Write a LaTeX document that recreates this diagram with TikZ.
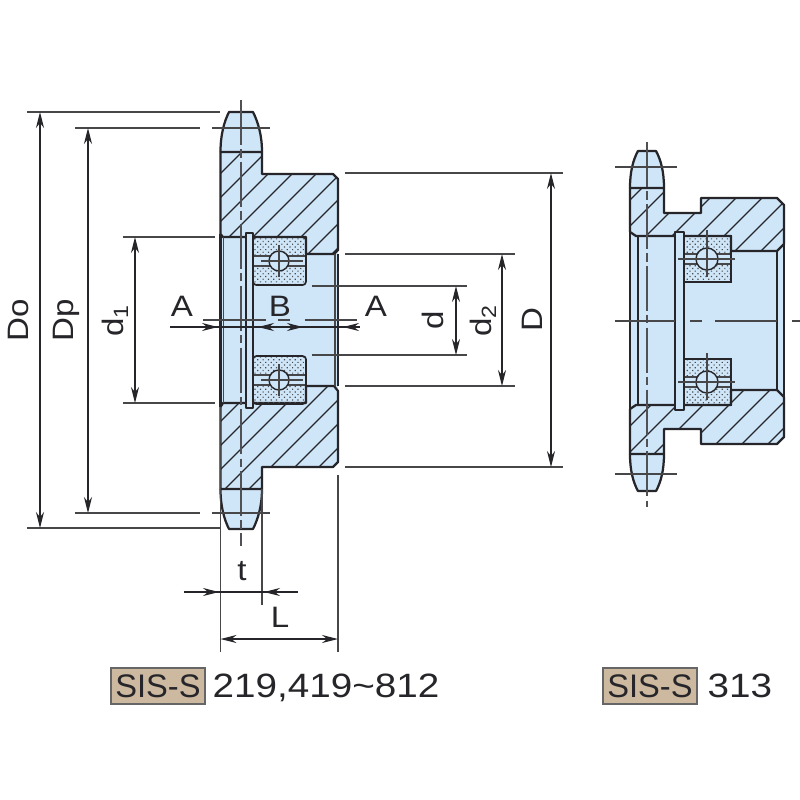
\documentclass[tikz,border=0pt]{standalone}
\usepackage{fontspec}
\setmainfont{Liberation Sans}
\usetikzlibrary{arrows.meta, patterns.meta}
\definecolor{bodyblue}{HTML}{CFE6F8}
\definecolor{tagtan}{HTML}{CDB9A0}
\definecolor{inkline}{HTML}{26262A}
\tikzset{
  outline/.style={draw=inkline, line width=0.8pt, line join=round},
  thinline/.style={draw=inkline!85, line width=0.4pt},
  hatchline/.style={draw=inkline, line width=0.4pt},
  centerline/.style={draw=inkline!80, line width=0.4pt, dash pattern=on 16pt off 1.5pt on 3pt off 1.5pt},
  dimline/.style={draw=inkline, line width=0.4pt, >={Stealth[length=2mm,width=1mm]}},
  dimlabel/.style={font=\fontsize{10.5}{12}\selectfont, text=inkline, inner sep=0pt, xscale=1.12},
  sidelabel/.style={font=\fontsize{10.5}{12}\selectfont, text=inkline, inner sep=0pt, rotate=90, xscale=1.12},
  tagbox/.style={draw=black!60, fill=tagtan, line width=0.4pt, minimum width=94*0.0125cm, minimum height=36*0.0125cm, inner sep=0pt, font=\fontsize{11.6}{13}\selectfont, text=inkline},
  tagtext/.style={font=\fontsize{12}{14}\selectfont, text=inkline, inner sep=0pt, anchor=base west, xscale=1.145},
  race/.style={draw=inkline, line width=0.6pt, rounded corners=1.2pt, pattern={Dots[distance=1.35pt, radius=0.3pt, angle=45]}, pattern color=black!70},
}
\begin{document}
\begin{tikzpicture}[x=0.0125cm, y=-0.0125cm]
\useasboundingbox (0,0) rectangle (800,800);
\fill[white] (0,0) rectangle (800,800);

% Left sprocket: outer shape
\fill[bodyblue] (220.5,152) .. controls (220.5,135) and (224,122) .. (229,112) -- (253,112) .. controls (258,122) and (262,135) .. (262,152) -- (262,174) -- (333,174) -- (338,179) -- (338,462) -- (333,467) -- (262,467) -- (262,489) .. controls (262,506) and (258,519) .. (253,529) -- (229,529) .. controls (224,519) and (220.5,506) .. (220.5,489) -- cycle;
% Left sprocket: hatching
\begin{scope}
\clip (220.5,152) -- (262,152) -- (262,174) -- (333,174) -- (338,179) -- (338,250) -- (334,254) -- (306,254) -- (306,237) -- (223,237) -- (220.5,234) -- cycle;
\foreach \c in {394,418,...,610} \draw[hatchline] (\c-100,100) -- (\c-300,300);
\end{scope}
\begin{scope}
\clip (220.5,489) -- (262,489) -- (262,467) -- (333,467) -- (338,462) -- (338,391) -- (334,386) -- (306,386) -- (306,403) -- (223,403) -- (220.5,407) -- cycle;
\foreach \c in {642,666,...,830} \draw[hatchline] (\c-340,340) -- (\c-540,540);
\end{scope}
% Left sprocket: section edges
\draw[outline] (220.5,152) -- (262,152) -- (262,174) -- (333,174) -- (338,179) -- (338,250) -- (334,254) -- (306,254) -- (306,237) -- (223,237) -- (220.5,234) -- cycle;
\draw[outline] (220.5,489) -- (262,489) -- (262,467) -- (333,467) -- (338,462) -- (338,391) -- (334,386) -- (306,386) -- (306,403) -- (223,403) -- (220.5,407) -- cycle;
\draw[outline] (220.5,152) .. controls (220.5,135) and (224,122) .. (229,112) -- (253,112) .. controls (258,122) and (262,135) .. (262,152);
\draw[outline] (220.5,489) .. controls (220.5,506) and (224,519) .. (229,529) -- (253,529) .. controls (258,519) and (262,506) .. (262,489);
% Left sprocket: bore
\draw[outline] (220.5,234) -- (220.5,407);
\draw[outline] (338,254) -- (338,386);
\draw[thinline] (223.5,237) -- (223.5,403);
\draw[thinline] (335,254) -- (335,386);
% Left sprocket: snap ring
\draw[outline, fill=bodyblue] (246,233) -- (253,233) -- (253,408) -- (246,408) -- cycle;
% Left sprocket: bearings
\foreach \ballY in {261,380} {
  \draw[race] (253,\ballY-24) rectangle (306,\ballY+24);
  \fill[bodyblue] (254,\ballY-5) rectangle (305,\ballY+5);
  \draw[thinline] (254,\ballY-5) -- (305,\ballY-5);
  \draw[thinline] (254,\ballY+5) -- (305,\ballY+5);
  \draw[outline, line width=0.5pt, fill=bodyblue] (279,\ballY) circle (10);
  \draw[thinline] (261,\ballY) -- (303,\ballY);
  \draw[thinline] (279,\ballY-16) -- (279,\ballY+16);
}
% Left sprocket: center lines
\draw[centerline] (241,100) -- (241,546);
\draw[thinline] (212,128) -- (270,128);
\draw[thinline] (212,513) -- (270,513);
\draw[thinline] (203,320) -- (266,320);
\draw[thinline] (278,320) -- (290,320);
\draw[thinline] (305,320) -- (357,320);

% Draw extension lines
\foreach \lineY/\lineA/\lineB in {112/27/220, 128/75/200, 237/123/215, 403/123/215, 513/75/200, 528/27/220} {
  \draw[thinline] (\lineA,\lineY) -- (\lineB,\lineY);
}
\foreach \lineY/\lineA/\lineB in {173/345/563, 254/345/515, 286/312/467, 355/312/467, 386/345/515, 467/345/563} {
  \draw[thinline] (\lineA,\lineY) -- (\lineB,\lineY);
}
\draw[thinline] (220.5,407) -- (220.5,652);
\draw[thinline] (262,489) -- (262,605);
\draw[thinline] (338,475) -- (338,652);

% Draw vertical dimensions
\draw[dimline, <->] (40,112) -- (40,528);
\draw[dimline, <->] (88,128) -- (88,513);
\draw[dimline, <->] (135,237) -- (135,403);
\draw[dimline, <->] (456,286) -- (456,355);
\draw[dimline, <->] (502,254) -- (502,386);
\draw[dimline, <->] (551,173) -- (551,467);
% Draw horizontal dimensions
\draw[dimline] (170,327) -- (360,327);
\draw[dimline, ->] (200,327) -- (218,327);
\draw[dimline, ->] (360,327) -- (343,327);
\draw[dimline, ->] (274,327) -- (258,327);
\draw[dimline, ->] (287,327) -- (303,327);
\draw[dimline] (184,592) -- (298,592);
\draw[dimline, ->] (200,592) -- (219,592);
\draw[dimline, ->] (282,592) -- (264,592);
\draw[dimline, <->] (220.5,639) -- (338,639);

% Left labels
\node[sidelabel] (labelDo) at (18,320) {Do};
\node[sidelabel] (labelDp) at (66,320) {Dp};
\node[sidelabel] (labelDa) at (115,320) {d\textsubscript{1}};
\node[sidelabel] (labeld) at (433,320) {d};
\node[sidelabel] (labelDb) at (483,320) {d\textsubscript{2}};
\node[sidelabel] (labelD) at (532,320) {D};
\node[dimlabel] (labelAleft) at (182,306) {A};
\node[dimlabel] (labelB) at (280,306) {B};
\node[dimlabel] (labelAright) at (376,306) {A};
\node[dimlabel] (labelt) at (242,571) {t};
\node[dimlabel] (labelL) at (280,617) {L};

% Right sprocket: outer shape
\fill[bodyblue] (630,188) .. controls (630,172) and (633,160) .. (638,151) -- (656,151) .. controls (661,160) and (664,172) .. (664,188) -- (664,213) -- (701,213) -- (701,198) -- (777,198) -- (784,205) -- (784,437) -- (777,444) -- (701,444) -- (701,429) -- (664,429) -- (664,454) .. controls (664,470) and (661,482) .. (656,491) -- (638,491) .. controls (633,482) and (630,470) .. (630,454) -- cycle;
% Right sprocket: hatching
\begin{scope}
\clip (630,188) -- (664,188) -- (664,213) -- (701,213) -- (701,198) -- (777,198) -- (784,205) -- (784,244) -- (777,251) -- (731,251) -- (731,236) -- (636,236) -- (630,232) -- cycle;
\foreach \c in {830,856,...,1040} \draw[hatchline] (\c-180,180) -- (\c-260,260);
\end{scope}
\begin{scope}
\clip (630,454) -- (664,454) -- (664,429) -- (701,429) -- (701,444) -- (777,444) -- (784,437) -- (784,397) -- (777,390) -- (731,390) -- (731,405) -- (636,405) -- (630,409) -- cycle;
\foreach \c in {1030,1056,...,1240} \draw[hatchline] (\c-380,380) -- (\c-460,460);
\end{scope}
% Right sprocket: section edges
\draw[outline] (630,188) -- (664,188) -- (664,213) -- (701,213) -- (701,198) -- (777,198) -- (784,205) -- (784,244) -- (777,251) -- (731,251) -- (731,236) -- (636,236) -- (630,232) -- cycle;
\draw[outline] (630,454) -- (664,454) -- (664,429) -- (701,429) -- (701,444) -- (777,444) -- (784,437) -- (784,397) -- (777,390) -- (731,390) -- (731,405) -- (636,405) -- (630,409) -- cycle;
\draw[outline] (630,188) .. controls (630,172) and (633,160) .. (638,151) -- (656,151) .. controls (661,160) and (664,172) .. (664,188);
\draw[outline] (630,454) .. controls (630,470) and (633,482) .. (638,491) -- (656,491) .. controls (661,482) and (664,470) .. (664,454);
% Right sprocket: bore
\draw[outline] (630,232) -- (630,409);
\draw[outline] (784,244) -- (784,397);
\draw[outline, line width=0.5pt] (638,236) -- (638,405);
\draw[outline, line width=0.5pt] (777,251) -- (777,390);
% Right sprocket: snap ring
\draw[outline, fill=bodyblue] (675,232) rectangle (684,410);
% Right sprocket: bearings
\foreach \ballY in {259,382} {
  \draw[race, rounded corners=0pt] (684,\ballY-23) rectangle (731,\ballY+23);
  \fill[bodyblue] (685,\ballY-5) rectangle (730,\ballY+5);
  \draw[thinline] (685,\ballY-5) -- (730,\ballY-5);
  \draw[thinline] (685,\ballY+5) -- (730,\ballY+5);
  \draw[outline, line width=0.5pt, fill=bodyblue] (707,\ballY) circle (11);
  \draw[thinline] (678,\ballY) -- (735,\ballY);
  \draw[thinline] (707,\ballY-29) -- (707,\ballY+18);
}
% Right sprocket: center lines
\draw[centerline] (647,142) -- (647,507);
\draw[thinline] (615,167) -- (677,167);
\draw[thinline] (615,474) -- (677,474);
\draw[thinline] (615,321) -- (675,321);
\draw[thinline] (690,321) -- (702,321);
\draw[thinline] (715,321) -- (777,321);
\draw[thinline] (792,321) -- (800,321);

% Series tags
\node[tagbox] (tagLeft) at (158,686) {SIS-S};
\node[tagtext] (textLeft) at (212,697) {219,419\char`\~812};
\node[tagbox] (tagRight) at (650,686) {SIS-S};
\node[tagtext] (textRight) at (707,697) {313};
\end{tikzpicture}
\end{document}
